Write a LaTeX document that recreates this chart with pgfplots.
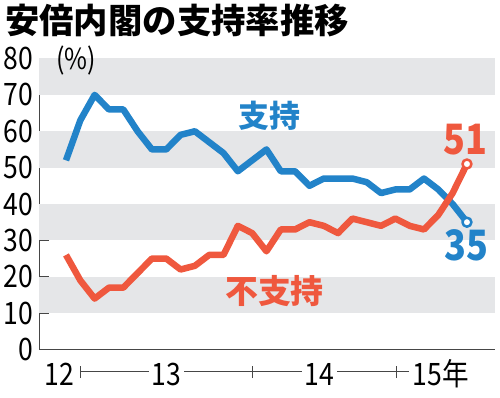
\documentclass[border=0pt]{standalone}
\usepackage{fontspec}
\usepackage{pgfplots}
\pgfplotsset{compat=1.18}
\setmainfont{Noto Sans CJK JP}
\newfontfamily\cjk{Noto Sans CJK JP}
\newfontfamily\cjkc[FakeStretch=0.86]{Noto Sans CJK JP}
\definecolor{cblue}{RGB}{34,131,201}
\definecolor{cred}{RGB}{239,88,62}
\definecolor{band}{RGB}{229,230,232}
\definecolor{axc}{RGB}{70,70,70}
\begin{document}
\begin{tikzpicture}[x=1bp,y=1bp]
\path[use as bounding box] (0,0) rectangle (500,397);
\begin{axis}[
  at={(39.3bp,47.5bp)}, anchor=south west,
  scale only axis, width=455.7bp, height=291bp,
  xmin=-1.864, xmax=29.96, ymin=0, ymax=80,
  axis x line=bottom, axis y line=left,
  axis line style={draw=axc, line width=1.3bp, -},
  xtick=\empty, minor xtick={0,...,28}, minor tick length=6bp,
  ytick={0,10,...,80}, major tick length=10bp,
  tick align=inside,
  tick style={draw=axc, line width=1bp},
  yticklabels={0,10,20,30,40,50,60,70,80},
  yticklabel style={font=\fontsize{31}{31}\selectfont\cjkc, text=black, inner sep=0pt, xshift=-6bp},
  clip=false,
]
\fill[band] (axis cs:-1.864,10) rectangle (axis cs:29.96,20);
\fill[band] (axis cs:-1.864,30) rectangle (axis cs:29.96,40);
\fill[band] (axis cs:-1.864,50) rectangle (axis cs:29.96,60);
\fill[band] (axis cs:-1.864,70) rectangle (axis cs:29.96,80);
\addplot[cblue, line width=6.5bp, line join=round, mark=*, mark indices={29}, mark size=4.5bp,
  mark options={fill=white, draw=cblue, line width=2.5bp}] coordinates {
(0,52)(1,63)(2,70)(3,66)(4,66)(5,60)(6,55)(7,55)(8,59)(9,60)(10,57)(11,54)(12,49)(13,52)(14,55)
(15,49)(16,49)(17,45)(18,47)(19,47)(20,47)(21,46)(22,43)(23,44)(24,44)(25,47)(26,44)(27,40)(28,35)};
\addplot[cred, line width=6.5bp, line join=round, mark=*, mark indices={29}, mark size=4.5bp,
  mark options={fill=white, draw=cred, line width=2.5bp}] coordinates {
(0,26)(1,19)(2,14)(3,17)(4,17)(5,21)(6,25)(7,25)(8,22)(9,23)(10,26)(11,26)(12,34)(13,32)(14,27)
(15,33)(16,33)(17,35)(18,34)(19,32)(20,36)(21,35)(22,34)(23,36)(24,34)(25,33)(26,37)(27,43)(28,51)};
\end{axis}
% title
\node[anchor=west, inner sep=0pt, font=\fontsize{34.5}{34.5}\selectfont\cjk\bfseries] at (5,377) {安倍内閣の支持率推移};
% unit
\node[inner sep=0pt, font=\fontsize{29}{29}\selectfont\cjkc] at (76,336) {(\%)};
% series labels
\node[inner sep=0pt, text=cblue, font=\fontsize{31}{31}\selectfont\cjk\bfseries] at (269,281) {支持};
\node[inner sep=0pt, text=cred, font=\fontsize{33}{33}\selectfont\cjk\bfseries] at (274.5,106) {不支持};
\node[inner sep=0pt, text=cred, font=\fontsize{42}{42}\selectfont\cjkc\bfseries] at (465,257) {51};
\node[inner sep=0pt, text=cblue, font=\fontsize{42}{42}\selectfont\cjkc\bfseries] at (466,152) {35};
% year axis
\draw[axc, line width=1bp] (80,25.3) -- (149,25.3) (184,25.3) -- (302,25.3) (337,25.3) -- (409,25.3);
\draw[axc, line width=1bp] (80,19) -- (80,31) (252,19) -- (252,31) (396,19) -- (396,31);
\node[inner sep=0pt, font=\fontsize{31}{31}\selectfont\cjkc] at (59.5,23) {12};
\node[inner sep=0pt, font=\fontsize{31}{31}\selectfont\cjkc] at (166,23) {13};
\node[inner sep=0pt, font=\fontsize{31}{31}\selectfont\cjkc] at (319,23) {14};
\node[inner sep=0pt, font=\fontsize{31}{31}\selectfont\cjkc] at (441,23) {15年};
\end{tikzpicture}
\end{document}
